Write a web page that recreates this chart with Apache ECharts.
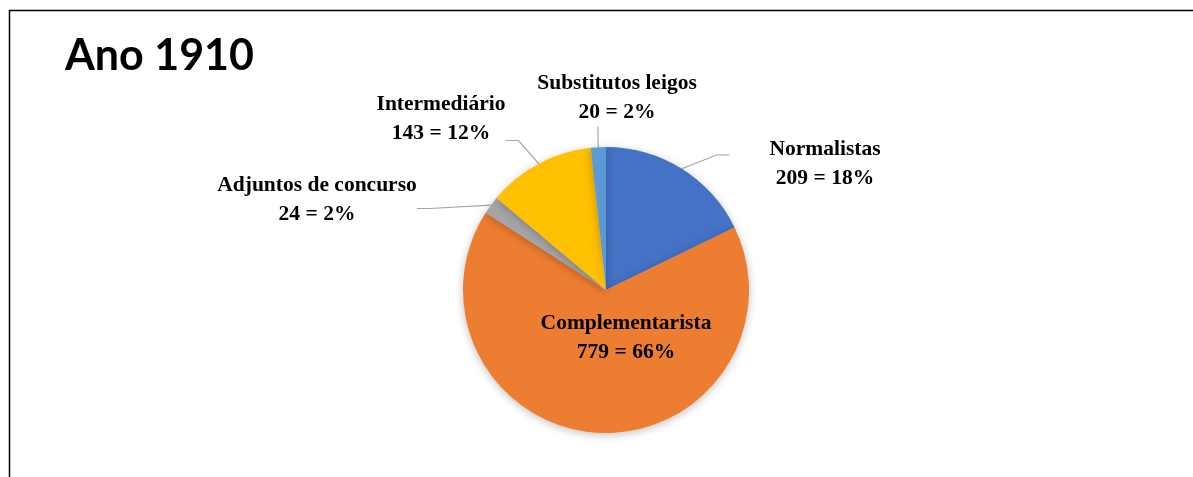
<!DOCTYPE html>
<html>
<head>
<meta charset="utf-8">
<title>Ano 1910</title>
<script src="https://cdn.jsdelivr.net/npm/echarts@6/dist/echarts.min.js"></script>
<style>
  html, body { margin: 0; padding: 0; background: #fff; }
  #chart { width: 1193px; height: 477px; }
</style>
</head>
<body>
<div id="chart"></div>
<script>
// categorias e valores (ordem do gráfico, sentido horário a partir do topo)
const categories = ['Normalistas', 'Complementarista', 'Adjuntos de concurso', 'Intermediário', 'Substitutos leigos'];
const values = [209, 779, 24, 143, 20];
const sliceColors = ['#4472C4', '#ED7D31', '#A5A5A5', '#FFC000', '#5B9BD5'];

// caixa de cada rótulo: centro x, topo y e folga (padding) para a linha guia
const labelSpots = [
  { x: 805, y: 117.5, pad: [17, 0, 0, 40] },
  { x: 626, y: 308.5, pad: 0 },
  { x: 317, y: 171, pad: [0, 0, 17, 0] },
  { x: 441, y: 89.5, pad: [0, 0, 44, 0] },
  { x: 598, y: 68.5, pad: [0, 0, 0, 38] }
];

const chart = echarts.init(document.getElementById('chart'));

chart.setOption({
  animation: false,
  title: {
    text: 'Ano 1910',
    left: 60,
    top: 30,
    textStyle: { fontFamily: 'Lato', fontWeight: 'bold', fontSize: 43, color: '#000' }
  },
  graphic: [{
    type: 'polyline',
    shape: { points: [[9.5, 477], [9.5, 10.5], [1193, 10.5]] },
    style: { stroke: '#000', lineWidth: 1.5, fill: null }
  }],
  series: [{
    type: 'pie',
    center: [606, 290],
    radius: 143,
    startAngle: 90,
    clockwise: true,
    percentPrecision: 0,
    itemStyle: {
      shadowBlur: 8,
      shadowColor: 'rgba(0,0,0,0.25)',
      shadowOffsetY: 2
    },
    label: {
      formatter: '{b}\n{c} = {d}%',
      fontFamily: 'Liberation Serif',
      fontWeight: 'bold',
      fontSize: 21.5,
      lineHeight: 29,
      color: '#000',
      align: 'center'
    },
    labelLine: {
      show: true,
      length: 20,
      length2: 13,
      lineStyle: { color: '#A6A6A6', width: 1.2 }
    },
    labelLayout: function (params) {
      const spot = labelSpots[params.dataIndex];
      return { x: spot.x, y: spot.y, align: 'center', verticalAlign: 'top' };
    },
    data: categories.map((name, i) => ({
      name: name,
      value: values[i],
      itemStyle: { color: sliceColors[i] },
      label: i === 1 ? { position: 'inside', padding: labelSpots[i].pad } : { padding: labelSpots[i].pad },
      labelLine: i === 1 ? { show: false } : {}
    }))
  }]
});
</script>
</body>
</html>
